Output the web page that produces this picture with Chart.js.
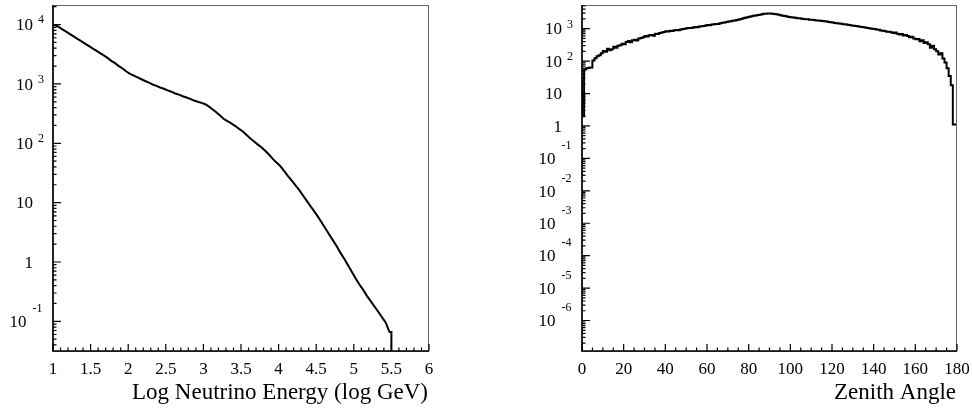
<!DOCTYPE html>
<html>
<head>
<meta charset="utf-8">
<script src="https://cdn.jsdelivr.net/npm/chart.js@4.4.1/dist/chart.umd.min.js"></script>
<style>
    body { margin: 0; background: white; }
    #wrap { position: relative; width: 972px; height: 410px; }
    .box { position: absolute; top: 0; width: 486px; height: 410px; }
</style>
</head>
<body>
<div id="wrap">
    <div class="box" style="left:0px"><canvas id="energyChart"></canvas></div>
    <div class="box" style="left:486px"><canvas id="zenithChart"></canvas></div>
</div>
<script>
// left histogram: log neutrino energy, bins of 0.05 starting at 1.0
var energyBinStart = 1.0;
var energyBinWidth = 0.05;
var energyCounts = [
    9800, 9120, 8320, 7590, 6920, 6310, 5750, 5250, 4790, 4370,
    3980, 3630, 3310, 3020, 2750, 2450, 2240, 2000, 1820, 1620,
    1480, 1380, 1290, 1200, 1120, 1050, 980, 930, 870, 830,
    780, 740, 690, 660, 620, 590, 560, 525, 500, 480,
    455, 415, 370, 330, 290, 255, 235, 215, 195, 175,
    158, 138, 120, 107, 95, 85, 74, 64, 54, 47,
    41, 34, 28, 23.4, 19.5, 16.2, 13.2, 10.7, 8.7, 7.1,
    5.75, 4.57, 3.63, 2.88, 2.29, 1.82, 1.41, 1.12, 0.87, 0.68,
    0.525, 0.417, 0.339, 0.269, 0.219, 0.178, 0.145, 0.117, 0.095, 0.066
];
var energyXTicks = [1, 1.5, 2, 2.5, 3, 3.5, 4, 4.5, 5, 5.5, 6];
var energyXLabels = ['1', '1.5', '2', '2.5', '3', '3.5', '4', '4.5', '5', '5.5', '6'];
var energyYTicks = [0.1, 1, 10, 100, 1000, 10000];
var energyYLabels = ['10^-1', '1', '10', '10^2', '10^3', '10^4'];

// right histogram: zenith angle, 1 degree bins
var zenithBinStart = 0;
var zenithBinWidth = 1;
var zenithCounts = [
    30, 2, 55, 60, 62, 64, 105, 122, 140, 152,
    175, 205, 195, 240, 215, 230, 275, 260, 300, 310,
    345, 330, 390, 415, 380, 440, 455, 430, 500, 520,
    540, 590, 570, 630, 640, 610, 700, 690, 740, 760,
    790, 830, 820, 870, 850, 900, 910, 890, 950, 980,
    1000, 1030, 1050, 1040, 1090, 1120, 1100, 1160, 1190, 1200,
    1260, 1290, 1280, 1340, 1380, 1400, 1390, 1470, 1510, 1540,
    1600, 1650, 1690, 1740, 1800, 1850, 1930, 2000, 2080, 2160,
    2250, 2330, 2410, 2490, 2560, 2640, 2710, 2780, 2860, 2910,
    2960, 2930, 2880, 2850, 2760, 2680, 2610, 2520, 2450, 2380,
    2300, 2260, 2200, 2160, 2100, 2080, 2030, 1990, 1960, 1940,
    1900, 1870, 1840, 1800, 1780, 1740, 1720, 1680, 1650, 1600,
    1570, 1550, 1500, 1480, 1440, 1420, 1380, 1360, 1320, 1300,
    1260, 1240, 1200, 1190, 1150, 1120, 1110, 1070, 1040, 1020,
    1000, 970, 940, 930, 880, 870, 850, 800, 810, 770,
    740, 760, 700, 660, 690, 620, 640, 590, 540, 560,
    500, 470, 480, 410, 440, 360, 380, 330, 260, 300,
    230, 200, 160, 175, 120, 90, 60, 35, 18, 1.1
];
var zenithXTicks = [0, 20, 40, 60, 80, 100, 120, 140, 160, 180];
var zenithXLabels = ['0', '20', '40', '60', '80', '100', '120', '140', '160', '180'];
var zenithYTicks = [1e-6, 1e-5, 1e-4, 1e-3, 1e-2, 0.1, 1, 10, 100, 1000];
var zenithYLabels = ['10^-6', '10^-5', '10^-4', '10^-3', '10^-2', '10^-1', '1', '10', '10^2', '10^3'];

// histogram -> step points (left edges + closing edge)
function hist_points(start, width, counts) {
    let pts = counts.map((c, i) => ({ x: start + i * width, y: c }));
    pts.push({ x: start + counts.length * width, y: counts[counts.length - 1] });
    return pts;
}
// histogram -> polyline through bin centres, held to both edges
function center_points(start, width, counts) {
    let pts = [{ x: start, y: counts[0] }];
    counts.forEach((c, i) => pts.push({ x: start + (i + 0.5) * width, y: c }));
    pts.push({ x: start + counts.length * width, y: counts[counts.length - 1] });
    return pts;
}

const FONT = '"Liberation Serif", "Times New Roman", serif';

const rootAxes = {
    id: 'rootAxes',
    afterDraw(chart, args, o) {
        let ctx = chart.ctx;
        let a = chart.chartArea;
        let xs = chart.scales.x, ys = chart.scales.y;
        ctx.save();
        // frame
        ctx.strokeStyle = '#666';
        ctx.lineWidth = 1;
        ctx.strokeRect(a.left, a.top + 0.5, a.right - a.left - 0.5, a.bottom - a.top);
        ctx.strokeStyle = 'black';
        ctx.lineWidth = 1.6;
        ctx.beginPath();
        ctx.moveTo(a.left, a.top);
        ctx.lineTo(a.left, a.bottom);
        ctx.lineTo(a.right, a.bottom);
        ctx.stroke();

        // x ticks
        ctx.lineWidth = 1.2;
        let n = Math.round((xs.max - xs.min) / o.xMinor);
        ctx.beginPath();
        for (let i = 0; i <= n; i++) {
            let v = xs.min + i * o.xMinor;
            let px = xs.getPixelForValue(v);
            let len = (i % o.xRatio == 0) ? o.majorLen : o.minorLen;
            ctx.moveTo(px, a.bottom);
            ctx.lineTo(px, a.bottom - len);
        }
        ctx.stroke();

        // y ticks (log)
        let lo = Math.floor(Math.log10(ys.min)), hi = Math.ceil(Math.log10(ys.max));
        ctx.beginPath();
        for (let d = lo; d <= hi; d++) {
            for (let m = 1; m <= 9; m++) {
                let v = m * Math.pow(10, d);
                if (v < ys.min || v > ys.max) continue;
                let py = ys.getPixelForValue(v);
                let len = (m == 1) ? o.majorLen + 1 : o.minorLen;
                ctx.moveTo(a.left, py);
                ctx.lineTo(a.left + len, py);
            }
        }
        ctx.stroke();

        // x labels
        ctx.fillStyle = 'black';
        ctx.font = '17px ' + FONT;
        ctx.textAlign = 'center';
        ctx.textBaseline = 'alphabetic';
        o.xTicks.forEach((v, i) => {
            ctx.fillText(o.xLabels[i], xs.getPixelForValue(v), a.bottom + 23);
        });

        // y labels, ROOT style 10^n
        o.yTicks.forEach((v, i) => {
            let py = ys.getPixelForValue(v);
            let parts = o.yLabels[i].split('^');
            ctx.font = '17px ' + FONT;
            ctx.textAlign = 'right';
            if (parts.length == 1) {
                ctx.fillText(parts[0], a.left - 20, py + 5.8);
            } else if (parts[1].charAt(0) == '-') {
                ctx.fillText(parts[0], a.left - 26.5, py + 5.8);
                ctx.font = '12px ' + FONT;
                ctx.textAlign = 'left';
                ctx.fillText(parts[1], a.left - 20.5, py - 9.3);
            } else {
                ctx.fillText(parts[0], a.left - 20, py + 5.8);
                ctx.font = '12px ' + FONT;
                ctx.textAlign = 'left';
                ctx.fillText(parts[1], a.left - 15, py - 1.1);
            }
        });

        // axis title
        ctx.font = '23px ' + FONT;
        ctx.textAlign = 'right';
        ctx.fillText(o.title, a.right - 1, a.bottom + 48);
        ctx.restore();
    }
};

function make_chart(id, datasets, xmin, xmax, ymin, ymax, pad, axes) {
    let ctx = document.getElementById(id);
    return new Chart(ctx, {
        type: 'line',
        data: { datasets: datasets },
        options: {
            responsive: true,
            maintainAspectRatio: false,
            animation: false,
            layout: { padding: pad },
            elements: { point: { radius: 0 } },
            scales: {
                x: { type: 'linear', min: xmin, max: xmax, display: false },
                y: { type: 'logarithmic', min: ymin, max: ymax, display: false }
            },
            plugins: {
                legend: { display: false },
                tooltip: { enabled: false },
                rootAxes: axes
            }
        },
        plugins: [rootAxes]
    });
}

let energyPts = center_points(energyBinStart, energyBinWidth, energyCounts);
energyPts.push({ x: energyPts[energyPts.length - 1].x, y: 1e-4 });
make_chart('energyChart', [
    { data: energyPts, borderColor: 'black', borderWidth: 2, fill: false, tension: 0 },
    { data: [{ x: 6, y: 1 }, { x: 6, y: 1e-4 }], borderColor: 'black', borderWidth: 1.5, fill: false }
], 1, 6, Math.pow(10, -1.5), Math.pow(10, 4.33),
    { left: 53, right: 57, top: 5, bottom: 59 },
    { xMinor: 0.1, xRatio: 5, majorLen: 7, minorLen: 3.5,
      xTicks: energyXTicks, xLabels: energyXLabels,
      yTicks: energyYTicks, yLabels: energyYLabels,
      title: 'Log Neutrino Energy (log GeV)' });

make_chart('zenithChart', [
    { data: hist_points(zenithBinStart, zenithBinWidth, zenithCounts), stepped: 'after', borderColor: 'black', borderWidth: 2, fill: false }
], 0, 180, Math.pow(10, -6.94), Math.pow(10, 3.73),
    { left: 96, right: 15, top: 5, bottom: 59 },
    { xMinor: 5, xRatio: 4, majorLen: 7, minorLen: 3.5,
      xTicks: zenithXTicks, xLabels: zenithXLabels,
      yTicks: zenithYTicks, yLabels: zenithYLabels,
      title: 'Zenith Angle' });
</script>
</body>
</html>
